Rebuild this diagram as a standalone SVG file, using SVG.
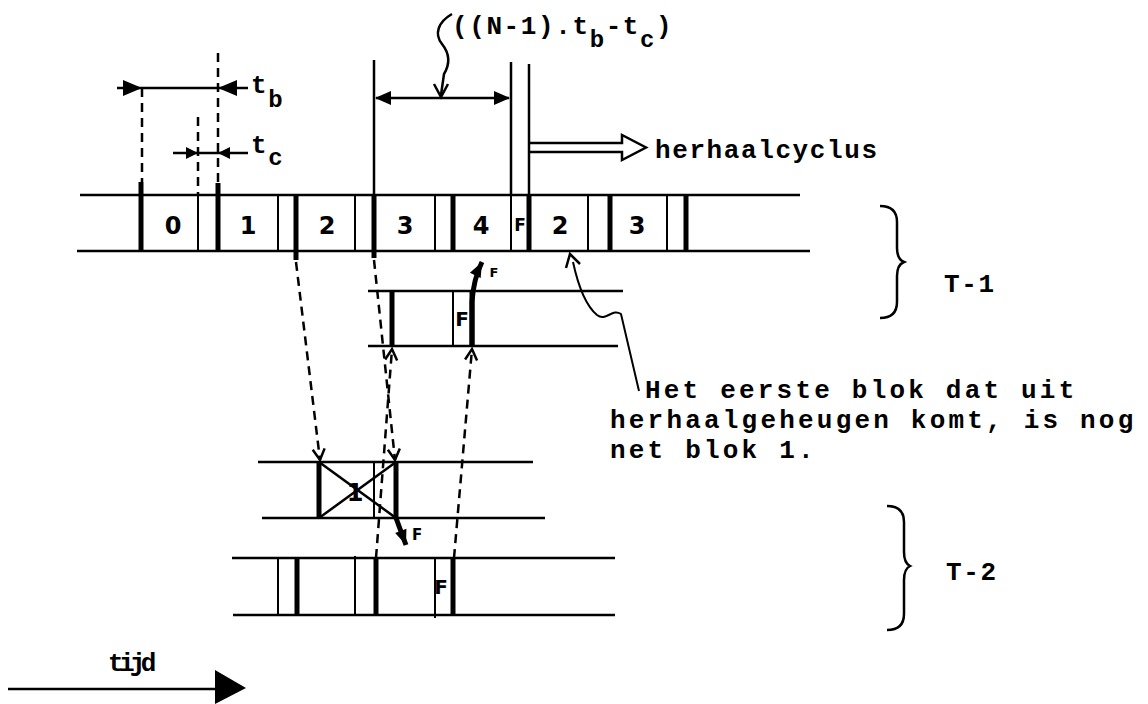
<svg xmlns="http://www.w3.org/2000/svg" width="1148" height="704" viewBox="0 0 1148 704">
  <style>
    .ln{stroke:#000;stroke-width:2.5;fill:none;stroke-linecap:butt}
    .thin{stroke:#000;stroke-width:2;fill:none}
    .thick{stroke:#000;stroke-width:5;fill:none}
    .dash{stroke:#000;stroke-width:2.5;fill:none;stroke-dasharray:9 6}
    .fill{fill:#000;stroke:none}
    .typ{font-family:"Liberation Mono","DejaVu Sans Mono",monospace;font-weight:bold;font-size:26px;letter-spacing:1.6px;fill:#000}
    .note{letter-spacing:3.2px}
    .sub{font-size:24px}
    .dig{font-family:"DejaVu Sans","Liberation Sans",sans-serif;font-weight:bold;font-size:24px;text-anchor:middle;fill:#000}
    .fl{font-family:"DejaVu Sans","Liberation Sans",sans-serif;font-weight:bold;text-anchor:middle;fill:#000}
  </style>
  <defs>
    <marker id="chev" viewBox="-12 -8 14 16" markerWidth="14" markerHeight="16" refX="0" refY="0" orient="auto" markerUnits="userSpaceOnUse">
      <path d="M-11,-6 L0,0 L-11,6" fill="none" stroke="#000" stroke-width="2.5"/>
    </marker>
    <marker id="tri" viewBox="-16 -8 18 16" markerWidth="18" markerHeight="16" refX="0" refY="0" orient="auto" markerUnits="userSpaceOnUse">
      <path d="M-15,-6 L0,0 L-15,6 Z" fill="#000"/>
    </marker>
  </defs>

  <!-- timing dimensions t_b and t_c -->
  <g id="dim-tb">
    <line class="ln" x1="117" y1="88" x2="248" y2="88"/>
    <polygon class="fill" points="123,80 123,96 142,88"/>
    <polygon class="fill" points="237,80 237,96 218,88"/>
    <text class="typ" x="251" y="93">t<tspan class="sub" dy="14">b</tspan></text>
  </g>
  <g id="dim-tc">
    <line class="ln" x1="173" y1="153" x2="248" y2="153"/>
    <polygon class="fill" points="186,147 186,159 198,153"/>
    <polygon class="fill" points="230,147 230,159 218,153"/>
    <text class="typ" x="251" y="153">t<tspan class="sub" dy="12">c</tspan></text>
  </g>

  <!-- repeat interval ((N-1).tb-tc) -->
  <g id="dim-repeat">
    <line class="ln" x1="374" y1="60" x2="374" y2="195"/>
    <line class="ln" x1="511" y1="62" x2="511" y2="195"/>
    <line class="ln" x1="529" y1="64" x2="529" y2="195"/>
    <line class="ln" x1="376" y1="98" x2="509" y2="98"/>
    <polygon class="fill" points="375,98 391,91 391,105"/>
    <polygon class="fill" points="510,98 494,91 494,105"/>
    <path class="ln" d="M452,14 C438,22 434,34 442,44 C450,54 450,64 444,74 L441,95"/>
    <path class="ln" d="M434,84 L441,97 L448,84"/>
    <text class="typ" x="452" y="34">((N-1).t<tspan class="sub" dy="13">b</tspan><tspan dy="-13">-t</tspan><tspan class="sub" dy="13">c</tspan><tspan dy="-13">)</tspan></text>
  </g>

  <!-- repeat cycle arrow -->
  <g id="repeat-cycle">
    <path class="ln" d="M530,143 H622 V135 L646,147.5 L622,160 V152 H530" fill="#fff"/>
    <text class="typ" x="655" y="158">herhaalcyclus</text>
  </g>

  <!-- T-1 main track -->
  <g id="track-t1a">
    <line class="ln" x1="80" y1="195" x2="800" y2="195"/>
    <line class="ln" x1="77" y1="251" x2="810" y2="251"/>
    <line class="thick" x1="141" y1="182" x2="141" y2="251"/>
    <line class="thin" x1="198" y1="195" x2="198" y2="251"/>
    <line class="thick" x1="218" y1="183" x2="218" y2="251"/>
    <line class="thin" x1="278" y1="195" x2="278" y2="251"/>
    <line class="thick" x1="296" y1="195" x2="296" y2="260"/>
    <line class="thin" x1="355" y1="195" x2="355" y2="251"/>
    <line class="thick" x1="374" y1="195" x2="374" y2="258"/>
    <line class="thin" x1="435" y1="195" x2="435" y2="251"/>
    <line class="thick" x1="453" y1="195" x2="453" y2="251"/>
    <line class="thin" x1="511" y1="195" x2="511" y2="251"/>
    <line class="thick" x1="529" y1="195" x2="529" y2="251"/>
    <line class="thin" x1="588" y1="195" x2="588" y2="251"/>
    <line class="thick" x1="610" y1="195" x2="610" y2="251"/>
    <line class="thin" x1="667" y1="195" x2="667" y2="251"/>
    <line class="thick" x1="686" y1="195" x2="686" y2="251"/>
    <text class="dig" x="173" y="234">0</text>
    <text class="dig" x="248" y="234">1</text>
    <text class="dig" x="327" y="234">2</text>
    <text class="dig" x="405" y="234">3</text>
    <text class="dig" x="481" y="234">4</text>
    <text class="fl" x="520" y="231" font-size="17">F</text>
    <text class="dig" x="560" y="234">2</text>
    <text class="dig" x="637" y="234">3</text>
  </g>

  <!-- T-1 second track -->
  <g id="track-t1b">
    <line class="ln" x1="368" y1="291" x2="623" y2="291"/>
    <line class="ln" x1="368" y1="346" x2="618" y2="346"/>
    <line class="thick" x1="392" y1="291" x2="392" y2="346"/>
    <line class="thin" x1="453" y1="291" x2="453" y2="346"/>
    <line class="thick" x1="472" y1="291" x2="472" y2="346"/>
    <text class="fl" x="462" y="326" font-size="20">F</text>
  </g>

  <!-- T-2 first track with rejected block 1 -->
  <g id="track-t2a">
    <line class="ln" x1="258" y1="462" x2="533" y2="462"/>
    <line class="ln" x1="262" y1="518" x2="545" y2="518"/>
    <line class="thick" x1="319" y1="462" x2="319" y2="518"/>
    <line class="thin" x1="374" y1="462" x2="374" y2="518"/>
    <line class="thick" x1="396" y1="462" x2="396" y2="518"/>
    <text class="dig" x="355" y="501" font-size="31">1</text>
    <line class="ln" x1="319" y1="462" x2="396" y2="518"/>
    <line class="ln" x1="319" y1="518" x2="396" y2="462"/>
  </g>

  <!-- T-2 second track -->
  <g id="track-t2b">
    <line class="ln" x1="232" y1="558" x2="615" y2="558"/>
    <line class="ln" x1="233" y1="615" x2="615" y2="615"/>
    <line class="thin" x1="278" y1="558" x2="278" y2="615"/>
    <line class="thick" x1="297" y1="558" x2="297" y2="615"/>
    <line class="thin" x1="355" y1="556" x2="355" y2="615"/>
    <line class="thick" x1="376" y1="558" x2="376" y2="615"/>
    <line class="thin" x1="435" y1="558" x2="435" y2="618"/>
    <line class="thick" x1="453" y1="558" x2="453" y2="615"/>
    <text class="fl" x="441" y="594" font-size="20">F</text>
  </g>

  <!-- connectors -->
  <g id="connectors">
    <line class="dash" x1="142" y1="88" x2="142" y2="182"/>
    <line class="dash" x1="218" y1="53" x2="218" y2="183"/>
    <line class="dash" x1="198" y1="117" x2="198" y2="195"/>
    <line class="dash" x1="296" y1="262" x2="320" y2="460" marker-end="url(#chev)"/>
    <line class="dash" x1="374" y1="260" x2="395" y2="460" marker-end="url(#chev)"/>
    <line class="dash" x1="376" y1="558" x2="392" y2="349" marker-end="url(#chev)"/>
    <line class="dash" x1="454" y1="558" x2="472" y2="349" marker-end="url(#chev)"/>
    <path class="thick" d="M472,346 L472,302 C473,285 477,272 482,262" marker-end="url(#tri)"/>
    <text class="fl" x="494" y="277" font-size="13">F</text>
    <path class="thick" d="M396,518 L406,545" marker-end="url(#tri)"/>
    <text class="fl" x="417" y="540" font-size="15">F</text>
    <path class="thin" d="M573,262 C578,285 585,305 597,315 C606,322 612,308 621,314 L639,391"/>
    <path class="ln" d="M566,268 L570,254 L580,264"/>
  </g>

  <!-- braces and track labels -->
  <g id="brace-t1">
    <path class="ln" stroke-width="3.5" d="M880,206 C892,206 897,212 897,222 L897,248 C897,256 899,260 904,262 C899,264 897,268 897,276 L897,302 C897,312 892,318 880,318"/>
    <text class="typ" x="944" y="292">T-1</text>
  </g>
  <g id="brace-t2">
    <path class="ln" stroke-width="3.5" d="M887,506 C899,506 904,512 904,522 L904,552 C904,560 906,564 910,566 C906,568 904,572 904,580 L904,614 C904,624 899,630 887,630"/>
    <text class="typ" x="946" y="580">T-2</text>
  </g>

  <!-- note -->
  <g id="note">
    <text class="typ note" x="645" y="398">Het eerste blok dat uit</text>
    <text class="typ note" x="610" y="428">herhaalgeheugen komt, is nog</text>
    <text class="typ note" x="610" y="458">net blok 1.</text>
  </g>

  <!-- time axis -->
  <g id="time-axis">
    <line class="ln" stroke-width="3" x1="8" y1="689" x2="216" y2="689"/>
    <polygon class="fill" points="215,670 215,704 246,688"/>
    <text class="typ" x="108" y="671" font-size="23" letter-spacing="0" textLength="50" lengthAdjust="spacing">tijd</text>
  </g>
</svg>
